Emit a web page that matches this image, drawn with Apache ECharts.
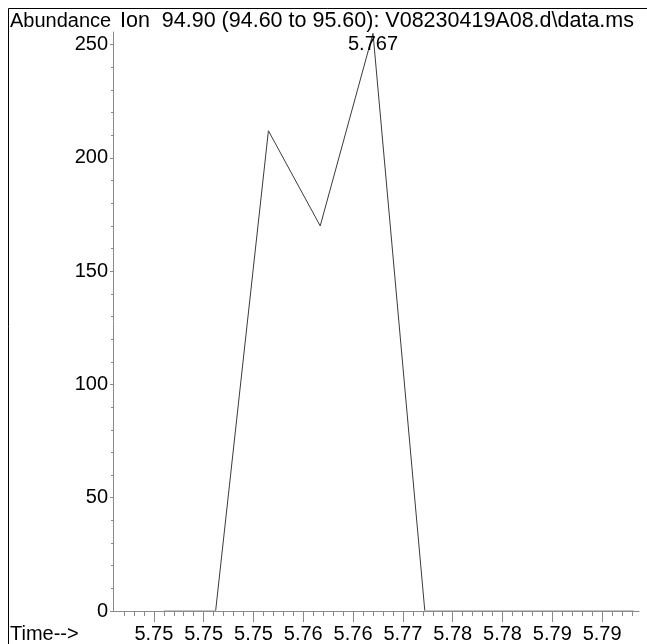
<!DOCTYPE html>
<html>
<head>
<meta charset="utf-8">
<script src="https://cdn.jsdelivr.net/npm/echarts@6/dist/echarts.min.js"></script>
<style>
html,body{margin:0;padding:0;background:#fff;}
#main{width:647px;height:644px;}
</style>
</head>
<body>
<div id="main"></div>
<script>
// ---- data ----
const times = [5.7460, 5.7512, 5.7565, 5.7617, 5.7670, 5.7722, 5.7775, 5.7827, 5.7880, 5.7932];
const abundance = [0, 0, 212, 170, 255, 0, 0, 0, 0, 0];
const xTickValues = [5.745, 5.750, 5.755, 5.760, 5.765, 5.770, 5.775, 5.780, 5.785, 5.790];
const xTickLabels = ['5.75', '5.75', '5.75', '5.76', '5.76', '5.77', '5.78', '5.78', '5.79', '5.79'];
const yTickValues = [0, 50, 100, 150, 200, 250];
const yTickLabels = ['0', '50', '100', '150', '200', '250'];
const titleText = 'Ion  94.90 (94.60 to 95.60): V08230419A08.d\\data.ms';
const yAxisName = 'Abundance';
const xAxisName = 'Time-->';

// ---- axis decoration (minor ticks) ----
const xMinor = [];
for (let k = 5742; k <= 5793; k++) { if (k % 5 !== 0) xMinor.push(k / 1000); }
const yMinor = [];
for (let k = 10; k <= 250; k += 10) { if (k % 50 !== 0) yMinor.push(k); }

const FONT = "'Liberation Sans', Arial, sans-serif";
const FS = 20;
const W = 647, H = 644;
const GRID = { left: 113, right: 8, top: 32, bottom: 33 };

const peakIndex = abundance.indexOf(Math.max(...abundance));
const seriesData = times.map((t, i) => {
  const item = { value: [t, abundance[i]] };
  if (i === peakIndex) {
    item.label = {
      show: true, position: 'bottom', distance: 1,
      formatter: (p) => p.value[0].toFixed(3),
      color: '#000', fontFamily: FONT, fontSize: FS
    };
  }
  return item;
});

function nearestLabel(val, values, labels) {
  let best = 0, bd = Infinity;
  values.forEach((v, i) => { const d = Math.abs(v - val); if (d < bd) { bd = d; best = i; } });
  return labels[best];
}

const xMin = 5.7409, xMax = 5.7937;
const yMin = 0, yMax = 255.6;
const axisColor = '#8a8a8a';
const lineColor = '#3a3a3a';
// baseline (value 0) drawn in the axis colour so it blends with the axis line
const baseY = H - GRID.bottom;
const lineGradient = new echarts.graphic.LinearGradient(0, 0, 0, H, [
  { offset: 0, color: lineColor },
  { offset: (baseY - 1.5) / H, color: lineColor },
  { offset: (baseY - 0.8) / H, color: axisColor },
  { offset: 1, color: axisColor }
], true);

const chart = echarts.init(document.getElementById('main'), null, { renderer: 'canvas' });
chart.setOption({
  animation: false,
  backgroundColor: '#fff',
  grid: GRID,
  xAxis: [
    {
      type: 'value', min: xMin, max: xMax, position: 'bottom', z: 5,
      axisLine: { show: true, lineStyle: { color: axisColor, width: 1 } },
      axisTick: { show: true, length: 11, lineStyle: { color: axisColor }, customValues: xTickValues },
      axisLabel: {
        show: true, customValues: xTickValues, margin: 13,
        formatter: (v) => nearestLabel(v, xTickValues, xTickLabels),
        color: '#000', fontFamily: FONT, fontSize: FS
      },
      splitLine: { show: false }
    },
    {
      type: 'value', min: xMin, max: xMax, position: 'bottom', z: 5,
      axisLine: { show: false },
      axisTick: { show: true, length: 5, lineStyle: { color: axisColor }, customValues: xMinor },
      axisLabel: { show: false },
      splitLine: { show: false }
    }
  ],
  yAxis: [
    {
      type: 'value', min: yMin, max: yMax, position: 'left', z: 5,
      axisLine: { show: true, lineStyle: { color: axisColor, width: 1 } },
      axisTick: { show: true, length: 3, lineStyle: { color: axisColor }, customValues: yTickValues },
      axisLabel: {
        show: true, customValues: yTickValues, margin: 5,
        formatter: (v) => nearestLabel(v, yTickValues, yTickLabels),
        color: '#000', fontFamily: FONT, fontSize: FS
      },
      splitLine: { show: false }
    },
    {
      type: 'value', min: yMin, max: yMax, position: 'left', z: 5,
      axisLine: { show: false },
      axisTick: { show: true, length: 2, lineStyle: { color: axisColor }, customValues: yMinor },
      axisLabel: { show: false },
      splitLine: { show: false }
    }
  ],
  graphic: [
    { type: 'line', shape: { x1: 8.5, y1: 8.5, x2: 647, y2: 8.5 }, style: { stroke: '#000', lineWidth: 1 } },
    { type: 'line', shape: { x1: 8.5, y1: 8.5, x2: 8.5, y2: 644 }, style: { stroke: '#000', lineWidth: 1 } },
    { type: 'text', left: 10, top: 11, style: { text: yAxisName, fill: '#000', font: FS + 'px ' + FONT } },
    { type: 'text', left: 120, top: 10, style: { text: titleText, fill: '#000', font: '21.5px ' + FONT } },
    { type: 'text', left: 10, top: 624, style: { text: xAxisName, fill: '#000', font: FS + 'px ' + FONT } }
  ],
  series: [
    {
      type: 'line', xAxisIndex: 0, yAxisIndex: 0,
      data: seriesData,
      showSymbol: true, symbol: 'circle', symbolSize: 0.1,
      itemStyle: { color: 'rgba(0,0,0,0)' },
      lineStyle: { color: lineGradient, width: 1 },
      label: { show: false },
      emphasis: { disabled: true },
      z: 1
    }
  ]
});
</script>
</body>
</html>
